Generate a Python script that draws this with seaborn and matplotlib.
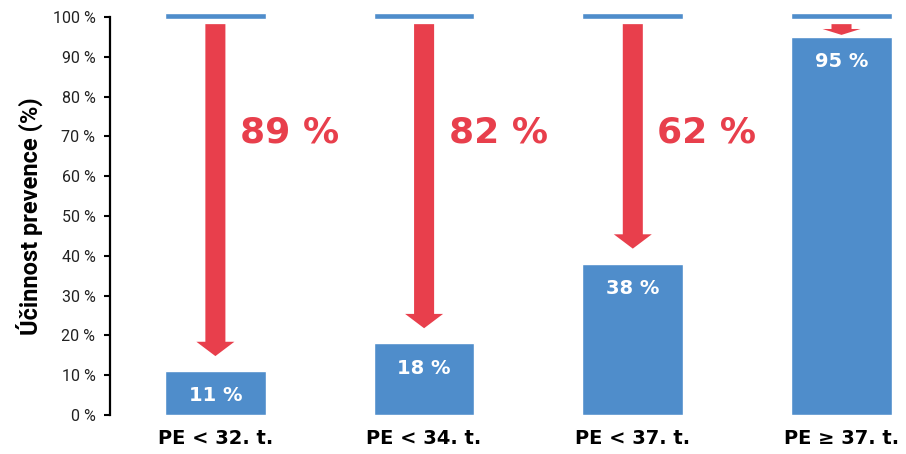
import numpy as np
import matplotlib
matplotlib.use("Agg")
import matplotlib.pyplot as plt
import seaborn as sns

# Data
categories = ["PE < 32. t.", "PE < 34. t.", "PE < 37. t.", "PE \u2265 37. t."]
prevention = [11, 18, 38, 95]
reference = [100, 100, 100, 100]
reduction = [89, 82, 62, 5]
show_reduction_label = [True, True, True, False]

blue = "#4F8DCB"
red = "#E83F4C"

sns.set_theme(style="white")
plt.rcParams["font.family"] = ["DejaVu Sans"]

fig = plt.figure(figsize=(9.06, 4.54), dpi=100)
ax = fig.add_axes([0.1214, 0.0859, 0.8786, 0.8767])

bw = 0.483
sns.barplot(x=categories, y=prevention, color=blue, width=bw, saturation=1, ax=ax)

# thin reference bars at 100 %
x = np.arange(len(categories))
ax.bar(x, [1.4] * len(x), bottom=np.array(reference) - 0.4, width=bw,
       color=blue, clip_on=False, zorder=3)

# arrows from 100 % down to the bar
for xi, v, r in zip(x, prevention, reference):
    start = r - 1.8
    tip = min(v + 3.8, start - 2.7)
    length = start - tip
    hl = min(3.6, length * 0.55)
    ax.arrow(xi, start, 0, -length, width=0.096, head_width=0.182,
             head_length=hl, length_includes_head=True, color=red,
             linewidth=0, zorder=4)

# value labels inside bars
for xi, v in zip(x, prevention):
    ax.text(xi, v - 6.2, f"{v} %", ha="center", va="center", color="white",
            fontsize=14, fontweight="bold", zorder=5)

# reduction labels
for xi, d, show in zip(x, reduction, show_reduction_label):
    if show:
        ax.text(xi + 0.117, 71, f"{d} %", ha="left", va="center", color=red,
                fontsize=26, fontweight="bold", zorder=5)

ax.set_xlim(-0.505, 3.309)
ax.set_ylim(0, 100)
ax.set_yticks(range(0, 101, 10))
ax.set_yticklabels([f"{t} %" for t in range(0, 101, 10)],
                   fontfamily="Roboto", fontsize=11.5, color="#222222")
ax.set_xticks(x)
ax.set_xticklabels(categories, fontsize=14, fontweight="bold", color="black")

ax.tick_params(axis="y", left=True, length=4.5, width=1.5, color="black", pad=6)
ax.tick_params(axis="x", bottom=False, pad=4)

for s in ["top", "right", "bottom"]:
    ax.spines[s].set_visible(False)
ax.spines["left"].set_color("black")
ax.spines["left"].set_linewidth(1.6)

ax.set_ylabel("Účinnost prevence (%)", fontfamily="Roboto", fontweight="bold",
              fontsize=17, color="black", labelpad=7)

fig.savefig("out.png", dpi=100)
